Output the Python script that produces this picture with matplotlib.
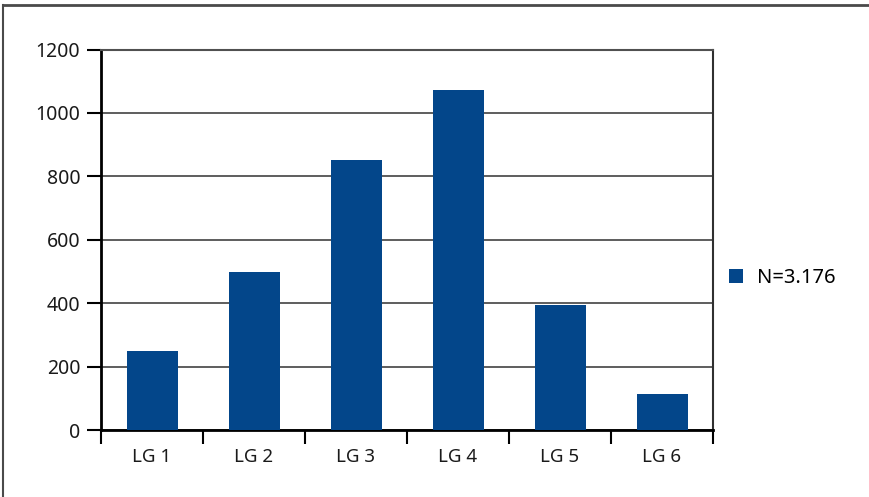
import matplotlib
matplotlib.use("Agg")
import matplotlib.pyplot as plt
from matplotlib.lines import Line2D

categories = ["LG 1", "LG 2", "LG 3", "LG 4", "LG 5", "LG 6"]
counts = [249, 497, 853, 1071, 393, 113]
series_label = "N=3.176"
y_ticks = [0, 200, 400, 600, 800, 1000, 1200]

bar_color = "#03468a"
grid_color = "#505050"
text_color = "#1a1a1a"

plt.rcParams["font.family"] = ["Noto Sans", "DejaVu Sans"]

W, H = 869, 497
fig = plt.figure(figsize=(W / 100, H / 100), dpi=100)
ax = fig.add_axes([101 / W, 1 - 430 / H, (713 - 101) / W, (430 - 49.5) / H])

x = list(range(len(categories)))
ax.bar(x, counts, width=0.5, color=bar_color, zorder=3, label=series_label)

ax.set_xlim(-0.5, len(categories) - 0.5)
ax.set_ylim(0, 1200)
ax.set_yticks(y_ticks)
ax.set_yticklabels([str(v) for v in y_ticks], fontsize=14, color=text_color)

# category labels centred under bars, tick marks at category boundaries
ax.set_xticks([i - 0.5 for i in range(len(categories) + 1)])
ax.set_xticklabels([])
ax.set_xticks(x, minor=True)
ax.set_xticklabels(categories, minor=True, fontsize=13.5, color=text_color)
ax.tick_params(axis="x", which="minor", length=0, pad=13)
ax.tick_params(axis="x", which="major", length=10, width=1.5, color="black", direction="out")
ax.tick_params(axis="y", length=10, width=1.5, color="black", direction="out", pad=5)

ax.yaxis.grid(True, color=grid_color, linewidth=1.3, zorder=1)
ax.set_axisbelow(True)

for side in ("left", "bottom"):
    ax.spines[side].set_linewidth(2)
    ax.spines[side].set_color("black")
ax.spines["top"].set_color(grid_color)
ax.spines["top"].set_linewidth(1.5)
ax.spines["right"].set_color("#303030")
ax.spines["right"].set_linewidth(1.5)

ax.legend(loc="center left", bbox_to_anchor=(1.003, (430 - 278) / (430 - 49.5)),
          frameon=False, fontsize=14.5, handlelength=0.7, handleheight=0.7,
          handletextpad=0.7, borderaxespad=0.3)

# outer frame: top and left edges
fig.add_artist(Line2D([3 / W, 1.0], [1 - 5 / H, 1 - 5 / H], transform=fig.transFigure,
                      color="#4a4a4a", linewidth=2))
fig.add_artist(Line2D([3 / W, 3 / W], [0, 1 - 5 / H], transform=fig.transFigure,
                      color="#4a4a4a", linewidth=1.5))

fig.savefig("out.png", dpi=100)
